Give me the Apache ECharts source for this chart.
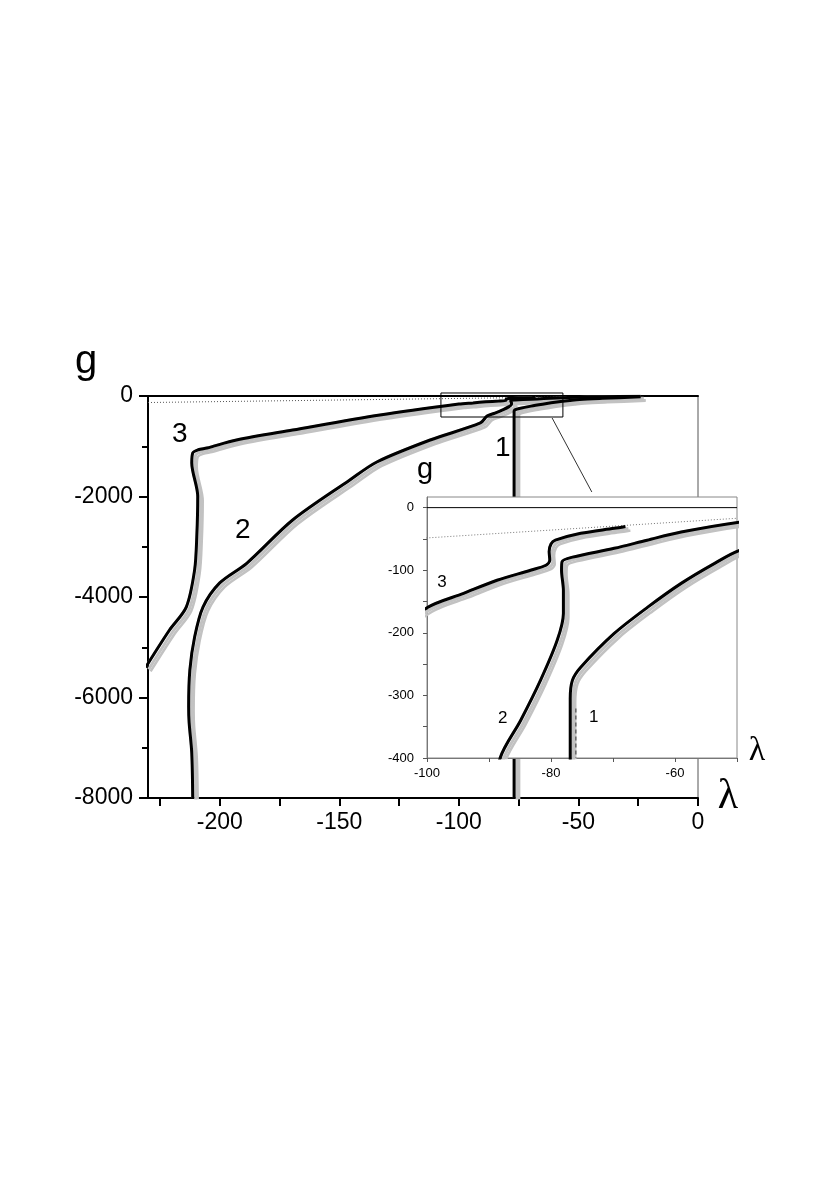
<!DOCTYPE html>
<html>
<head>
<meta charset="utf-8">
<script src="https://cdn.jsdelivr.net/npm/echarts@6/dist/echarts.min.js"></script>
<style>
  html, body { margin: 0; padding: 0; background: #fff; }
  #main { width: 830px; height: 1182px; }
</style>
</head>
<body>
<div id="main"></div>
<script>
  // curves, points are [lambda, g]
  const curve1 = [
    [-76.9, -8000], [-76.9, -305], [-76.55, -276], [-75.2, -255], [-69.8, -201],
    [-64.4, -159], [-59, -121], [-53.6, -89], [-49.5, -68], [-40, -46], [-24, -16]
  ];
  const curve2 = [
    [-211.3, -8000], [-211.7, -7104], [-212.8, -6500], [-213, -6189], [-212.5, -5453],
    [-210.5, -4796], [-207, -4200], [-200, -3720], [-188.7, -3329], [-169.5, -2468],
    [-145.6, -1672], [-134.3, -1313], [-112, -876], [-91, -537], [-88.2, -400],
    [-84.9, -340], [-81.7, -276], [-79, -212], [-78, -169], [-78, -132], [-78.3, -100],
    [-78.2, -86], [-76.5, -79], [-69.8, -65], [-64.5, -52], [-59, -39], [-49.5, -23],
    [-40, -13], [-24, -5]
  ];
  const curve3 = [
    [-231, -5400], [-221, -4657], [-214, -4200], [-210.5, -3460], [-209.6, -2800],
    [-209.2, -2000], [-211.7, -1333], [-211.3, -1134], [-209, -1070],
    [-205.4, -1035], [-193, -876], [-169.5, -677], [-133, -378], [-100, -160],
    [-94.1, -137], [-88.7, -116], [-83.3, -100], [-80.8, -92], [-80.2, -84],
    [-80.3, -70], [-80, -58], [-79.3, -52], [-75.2, -41], [-69.8, -33], [-68, -30]
  ];
  const dottedLine = [[-230, -130], [-50, -17]];
  const dashedTail = [[-76, -321], [-76, -400]];
  const zeroLine = [[-100, 0], [-50, 0]];

  // zoom box + arrow (main plot)
  const zoomBoxLambda = [-107.5, -56.5];
  const zoomBoxG = [60, -418];
  const arrowFrom = [-61, -438];
  const arrowTo = [-44.4, -1910];

  // ticks / labels
  const mainXTicks = [-225, -200, -175, -150, -125, -100, -75, -50, -25, 0];
  const mainXLabels = [-200, -150, -100, -50, 0];
  const insetXTicks = [-100, -90, -80, -70, -60, -50];
  const insetXLabels = [-100, -80, -60];
  const insetYTicks = [-400, -350, -300, -250, -200, -150, -100, -50, 0];
  const insetYLabels = [-400, -300, -200, -100, 0];

  // curve numbers
  const mainTags = ['1', '2', '3'];
  const mainTagPos = [[-81.6, -1035], [-190.4, -2667], [-216.7, -756]];
  const insetTags = ['1', '2', '3'];
  const insetTagPos = [[-73.1, -335], [-87.8, -337], [-97.6, -119]];

  const FONT = 'Liberation Sans, Arial, sans-serif';
  const GRAY = '#c2c2c2';

  const chart = echarts.init(document.getElementById('main'));

  // black curve with gray shadow band under it
  function curveSeries(data, xi, yi, z) {
    return [
      {
        type: 'line', xAxisIndex: xi, yAxisIndex: yi, data: data, symbol: 'none', z: z, smooth: 0.3,
        lineStyle: { color: GRAY, width: 2.5, shadowColor: GRAY, shadowOffsetX: 5, shadowOffsetY: 4, shadowBlur: 0 }
      },
      {
        type: 'line', xAxisIndex: xi, yAxisIndex: yi, data: data, symbol: 'none', z: z + 1, smooth: 0.3,
        lineStyle: { color: '#000', width: 3, shadowColor: GRAY, shadowOffsetX: 3, shadowOffsetY: 2, shadowBlur: 0 }
      }
    ];
  }

  function tagSeries(names, pos, xi, yi, size, z) {
    return {
      type: 'scatter', xAxisIndex: xi, yAxisIndex: yi, z: z, symbolSize: 0,
      itemStyle: { color: '#000', opacity: 1 },
      data: names.map((n, i) => ({ name: n, value: pos[i] })),
      label: { show: true, position: 'inside', formatter: '{b}', fontSize: size, color: '#000', opacity: 1, fontFamily: FONT }
    };
  }

  const box = [
    [zoomBoxLambda[0], zoomBoxG[0]], [zoomBoxLambda[1], zoomBoxG[0]],
    [zoomBoxLambda[1], zoomBoxG[1]], [zoomBoxLambda[0], zoomBoxG[1]],
    [zoomBoxLambda[0], zoomBoxG[0]]
  ];

  const plain = v => String(v);

  const option = {
    animation: false,
    backgroundColor: '#fff',
    grid: [
      { left: 148, top: 396, width: 550, height: 402, show: true, backgroundColor: 'transparent', borderColor: '#555', borderWidth: 1 },
      { left: 427, top: 497, width: 310, height: 261, show: true, backgroundColor: '#fff', borderColor: '#888', borderWidth: 1, z: 5 }
    ],
    xAxis: [
      {
        gridIndex: 0, type: 'value', min: -230, max: 0, position: 'bottom',
        axisLine: { show: true, onZero: false, lineStyle: { color: '#000', width: 2 } },
        axisTick: { show: true, length: 8, customValues: mainXTicks, lineStyle: { color: '#000', width: 2 } },
        axisLabel: { customValues: mainXLabels, formatter: plain, fontSize: 23, color: '#000', margin: 13, fontFamily: FONT },
        splitLine: { show: false }
      },
      {
        gridIndex: 0, type: 'value', min: -230, max: 0, position: 'top',
        axisLine: { show: true, onZero: false, lineStyle: { color: '#000', width: 2 } },
        axisTick: { show: false }, axisLabel: { show: false }, splitLine: { show: false }
      },
      {
        gridIndex: 1, type: 'value', min: -100, max: -50, position: 'bottom', z: 6,
        axisLine: { show: true, onZero: false, lineStyle: { color: '#777', width: 1 } },
        axisTick: { show: true, length: 4, customValues: insetXTicks, lineStyle: { color: '#555' } },
        axisLabel: { customValues: insetXLabels, formatter: plain, fontSize: 13, color: '#000', margin: 9, fontFamily: FONT },
        splitLine: { show: false }
      }
    ],
    yAxis: [
      {
        gridIndex: 0, type: 'value', min: -8000, max: 0, interval: 2000,
        axisLine: { show: true, onZero: false, lineStyle: { color: '#000', width: 2 } },
        axisTick: { show: true, length: 9, lineStyle: { color: '#000', width: 2 } },
        minorTick: { show: true, splitNumber: 2, length: 6, lineStyle: { color: '#000', width: 2 } },
        axisLabel: { formatter: plain, fontSize: 23, color: '#000', margin: 15, fontFamily: FONT },
        splitLine: { show: false }, minorSplitLine: { show: false }
      },
      {
        gridIndex: 1, type: 'value', min: -400, max: 17, z: 6,
        axisLine: { show: true, onZero: false, lineStyle: { color: '#777', width: 1 } },
        axisTick: { show: true, length: 4, customValues: insetYTicks, lineStyle: { color: '#555' } },
        axisLabel: { customValues: insetYLabels, formatter: plain, fontSize: 13, color: '#000', margin: 13, fontFamily: FONT },
        splitLine: { show: false }
      }
    ],
    series: [
      // main plot
      {
        type: 'line', xAxisIndex: 0, yAxisIndex: 0, data: dottedLine, symbol: 'none', z: 1,
        lineStyle: { color: '#555', width: 1, type: [1, 2] }
      },
      ...curveSeries(curve3, 0, 0, 2),
      ...curveSeries(curve2, 0, 0, 2),
      ...curveSeries(curve1, 0, 0, 2),
      {
        type: 'line', xAxisIndex: 0, yAxisIndex: 0, data: box, symbol: 'none', z: 4, clip: false,
        lineStyle: { color: '#000', width: 1 },
        markLine: {
          silent: true, symbol: ['none', 'arrow'], symbolSize: [0, 7],
          label: { show: false },
          lineStyle: { color: '#333', width: 1, type: 'solid' },
          data: [[{ coord: arrowFrom }, { coord: arrowTo }]]
        }
      },
      tagSeries(mainTags, mainTagPos, 0, 0, 28, 4),

      // inset
      {
        type: 'line', xAxisIndex: 2, yAxisIndex: 1, data: zeroLine, symbol: 'none', z: 7,
        lineStyle: { color: '#000', width: 1 }
      },
      {
        type: 'line', xAxisIndex: 2, yAxisIndex: 1, data: dottedLine, symbol: 'none', z: 7,
        lineStyle: { color: '#777', width: 1, type: [1, 2] }
      },
      ...curveSeries(curve3, 2, 1, 8),
      ...curveSeries(curve2, 2, 1, 8),
      ...curveSeries(curve1, 2, 1, 8),
      {
        type: 'line', xAxisIndex: 2, yAxisIndex: 1, data: dashedTail, symbol: 'none', z: 10,
        lineStyle: { color: '#666', width: 1.5, type: [4, 3] }
      },
      tagSeries(insetTags, insetTagPos, 2, 1, 17, 11)
    ],
    graphic: [
      { type: 'text', x: 86, y: 362, z: 20, style: { text: 'g', fontSize: 40, fontFamily: FONT, fill: '#000', align: 'center', verticalAlign: 'middle' } },
      { type: 'text', x: 728, y: 797, z: 20, style: { text: 'λ', fontSize: 42, fontFamily: 'Liberation Serif, serif', fill: '#000', align: 'center', verticalAlign: 'middle' } },
      { type: 'text', x: 425, y: 470, z: 20, style: { text: 'g', fontSize: 29, fontFamily: FONT, fill: '#000', align: 'center', verticalAlign: 'middle' } },
      { type: 'text', x: 757, y: 751, z: 20, style: { text: 'λ', fontSize: 34, fontFamily: 'Liberation Serif, serif', fill: '#000', align: 'center', verticalAlign: 'middle' } }
    ]
  };

  chart.setOption(option);
</script>
</body>
</html>
